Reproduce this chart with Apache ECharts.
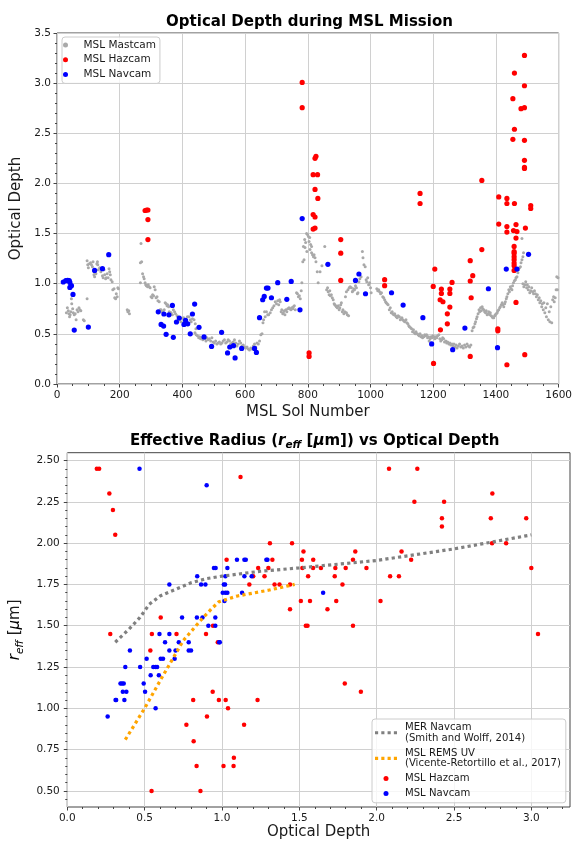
<!DOCTYPE html>
<html><head><meta charset="utf-8">
<script src="https://cdn.jsdelivr.net/npm/echarts@6/dist/echarts.min.js"></script>
<style>html,body{margin:0;padding:0;background:#fff}#c{width:575px;height:841px}</style>
</head><body><div id="c"></div><script>
// ---------- Top chart data: [sol, optical depth] ----------
const mastcam = [
[30,0.71],[33,0.76],[36,0.73],[38,0.70],[40,0.67],[42,0.69],[44,0.72],[46,0.85],[47,0.80],[50,0.75],[52,0.71],[55,0.69],[58,0.70],[61,0.64],[64,0.74],[67,0.72],[70,0.76],[73,0.74],[76,0.73],[84,0.64],[87,0.63],[96,0.85],
[96,1.23],[98,1.19],[100,1.16],[103,1.20],[107,1.21],[110,1.19],[113,1.17],[115,1.22],[117,1.13],[118,1.09],[120,1.07],[121,1.11],[124,1.10],[127,1.20],[129,1.22],[130,1.19],[132,1.14],[136,1.16],[140,1.12],[145,1.08],[147,1.06],[150,1.14],[152,1.09],[155,1.05],[157,1.06],[160,1.10],[163,1.06],[166,1.15],[168,1.12],[170,1.09],[172,1.04],[176,1.02],[178,0.94],[182,0.95],[184,0.86],[187,0.85],[189,0.90],[192,0.87],[194,0.96],[196,0.95],
[224,0.74],[226,0.72],[229,0.73],[231,0.70],
[266,1.21],[266,1.01],[268,1.40],[270,1.22],[273,1.10],[276,1.07],[278,1.05],[281,1.01],[283,0.99],[285,0.98],[289,0.97],[291,0.99],[294,0.97],[297,0.96],[300,0.87],[303,0.86],[305,0.89],[308,0.88],[310,0.97],[313,0.94],[316,0.86],[319,0.87],[322,0.83],[326,0.82],[329,0.74],[332,0.74],[335,0.72],[338,0.72],[342,0.74],[345,0.81],[348,0.80],[351,0.78],[353,0.79],[356,0.77],[358,0.72],[361,0.71],[364,0.71],[368,0.69],[371,0.74],[375,0.72],[378,0.70],[383,0.68],[387,0.66],[390,0.64],[395,0.62],[400,0.655],[404,0.66],[408,0.64],[411,0.62],[416,0.67],[421,0.67],[425,0.64],[428,0.62],[432,0.65],[437,0.64],[441,0.60],[443,0.55],
[440,0.51],[444,0.49],[448,0.48],[452,0.46],[455,0.47],[458,0.45],[462,0.46],[465,0.44],[468,0.47],[472,0.45],[475,0.43],[478,0.46],[482,0.44],[486,0.45],[490,0.43],[494,0.46],[498,0.42],[502,0.41],[506,0.43],[510,0.40],[514,0.41],[518,0.42],[522,0.40],[526,0.41],[530,0.43],[534,0.44],[538,0.41],[542,0.42],[546,0.44],[550,0.43],[554,0.40],[558,0.41],[562,0.42],[566,0.44],[570,0.41],[574,0.38],[578,0.40],[582,0.43],[586,0.41],[590,0.38],[594,0.39],[598,0.37],[602,0.36],[606,0.37],[610,0.35],[614,0.34],[618,0.36],[622,0.35],[626,0.38],[630,0.40],[634,0.37],[638,0.41],[642,0.40],[646,0.43],
[650,0.49],[654,0.50],[657,0.61],[659,0.64],[662,0.72],[664,0.67],[668,0.72],[672,0.69],[675,0.69],[680,0.71],[684,0.74],[688,0.76],[692,0.78],[696,0.82],[700,0.80],[704,0.83],[707,0.79],[710,0.84],[712,0.82],[715,0.72],[717,0.74],[720,0.70],[722,0.71],[725,0.73],[727,0.69],[730,0.74],[733,0.72],[736,0.75],[740,0.76],[743,0.75],[746,0.74],[749,0.76],[752,0.75],[754,0.77],[757,0.78],[760,0.74],[764,0.91],[767,0.90],[770,0.87],[773,0.88],[776,0.85],[779,0.93],[781,1.01],
[784,1.22],[786,1.37],[788,1.24],[790,1.44],[791,1.36],[793,1.41],[796,1.50],[797,1.32],[799,1.49],[802,1.47],[804,1.42],[806,1.46],[807,1.34],[809,1.39],[812,1.37],[812,1.31],[815,1.29],[818,1.27],[820,1.29],[823,1.26],[826,1.22],[830,1.12],[833,1.01],[839,1.12],[845,1.18],[854,1.37],[860,0.94],[863,0.96],[865,0.92],[868,0.89],[870,0.93],[872,0.88],[875,0.89],[878,0.86],[881,0.84],[884,0.80],[886,0.79],[889,0.78],[891,0.77],[894,0.76],[897,0.78],[900,0.74],[902,0.76],[905,0.79],[907,0.81],[910,0.72],[912,0.74],[915,0.70],[918,0.72],[920,0.87],[923,0.71],[923,0.92],[926,0.69],[928,0.94],[930,0.68],[932,0.96],[935,0.97],[939,0.96],[942,0.92],[944,0.93],[947,0.95],[949,0.94],[952,0.98],[955,0.96],[958,0.90],[960,0.91],[963,1.02],[966,1.05],[970,1.07],[974,1.32],[976,1.26],[979,1.19],[983,1.17],[986,1.04],[988,1.02],[991,1.06],[994,0.99],[997,1.01],[1000,0.96],[1002,0.91],
[1020,0.95],[1023,0.93],[1026,0.94],[1029,0.92],[1032,0.90],[1035,0.91],[1039,0.87],[1042,0.86],[1045,0.84],[1048,0.82],[1050,0.81],[1053,0.80],[1056,0.79],[1060,0.74],[1063,0.76],[1066,0.71],[1069,0.72],[1071,0.70],[1074,0.69],[1077,0.70],[1080,0.68],[1082,0.67],[1085,0.66],[1088,0.68],[1092,0.67],[1095,0.64],[1098,0.65],[1100,0.66],[1103,0.64],[1106,0.63],[1109,0.62],[1113,0.64],[1116,0.61],[1119,0.60],[1122,0.58],[1124,0.57],[1128,0.56],[1131,0.55],[1134,0.52],[1137,0.54],[1140,0.51],[1143,0.50],[1145,0.52],[1149,0.50],[1152,0.49],[1155,0.48],[1158,0.50],[1161,0.47],[1164,0.48],[1166,0.46],[1170,0.47],[1173,0.49],[1176,0.48],[1179,0.49],[1182,0.46],[1185,0.47],[1187,0.43],[1190,0.45],[1193,0.47],[1196,0.46],[1199,0.48],[1202,0.47],[1205,0.45],[1208,0.47],[1211,0.46],[1214,0.48],[1218,0.49],[1221,0.45],[1224,0.43],[1227,0.44],[1230,0.46],[1233,0.45],[1236,0.42],[1240,0.43],[1243,0.41],[1246,0.42],[1250,0.40],[1253,0.41],[1256,0.39],[1260,0.40],[1263,0.38],[1266,0.40],[1270,0.37],[1273,0.39],[1276,0.36],[1280,0.38],[1284,0.40],[1288,0.37],[1292,0.38],[1296,0.36],[1300,0.39],[1304,0.37],[1308,0.40],[1312,0.38],[1316,0.37],[1320,0.39],
[1324,0.53],[1327,0.56],[1330,0.57],[1333,0.60],[1335,0.62],[1338,0.65],[1340,0.67],[1343,0.70],[1346,0.74],[1348,0.72],[1351,0.76],[1353,0.73],[1356,0.77],[1358,0.75],[1361,0.74],[1364,0.72],[1367,0.71],[1369,0.73],[1372,0.69],[1375,0.70],[1377,0.72],[1380,0.69],[1382,0.71],[1385,0.68],[1388,0.67],[1390,0.66],[1393,0.66],[1396,0.68],[1398,0.69],[1401,0.70],[1404,0.71],[1406,0.73],[1409,0.74],[1412,0.76],[1414,0.77],[1417,0.79],[1420,0.81],[1422,0.79],[1425,0.77],[1428,0.80],[1430,0.82],[1433,0.85],[1435,0.87],[1438,0.90],[1441,0.94],[1443,0.92],[1446,0.97],[1448,0.95],[1451,0.94],[1453,0.98],[1456,1.01],[1459,1.03],[1462,1.04],[1464,1.06],[1467,1.07],[1470,1.11],[1472,1.14],[1475,1.16],[1478,1.17],[1480,1.21],[1483,1.24],[1486,1.27],[1488,1.31],[1483,1.45],
[1486,1.00],[1489,0.97],[1492,0.99],[1495,1.02],[1498,0.96],[1500,0.99],[1503,0.94],[1505,0.97],[1508,0.91],[1511,0.93],[1514,0.96],[1517,0.92],[1520,0.90],[1523,0.93],[1526,0.90],[1529,0.87],[1532,0.89],[1535,0.84],[1538,0.86],[1540,0.81],[1543,0.83],[1546,0.77],[1548,0.80],[1551,0.74],[1553,0.81],[1556,0.71],[1559,0.76],[1561,0.67],[1564,0.80],[1567,0.64],[1570,0.72],[1572,0.62],[1575,0.77],[1578,0.61],[1581,0.84],[1584,0.87],[1586,0.82],[1589,0.86],[1592,0.94],[1594,1.07],[1596,0.94],[1598,1.06]
];
const hazcamSol = [
[281,1.73],[286,1.735],[290,1.735],[290,1.64],[290,1.44],
[782,3.007],[782,2.755],[804,0.31],[804,0.275],
[817,1.69],[823,1.665],[817,1.545],[823,1.555],[817,2.087],[831,2.087],[823,1.94],[832,1.85],[826,2.27],[823,2.25],
[905,1.44],[905,1.305],[905,1.033],[1045,1.04],[1045,0.98],[1158,1.90],[1158,1.80],
[1200,0.973],[1201,0.205],[1205,1.146],[1222,0.84],[1223,0.54],[1226,0.947],[1226,0.903],[1231,0.82],
[1245,0.70],[1245,0.60],[1253,0.947],[1253,0.903],[1253,0.767],[1260,1.013],
[1318,1.23],[1318,1.027],[1318,0.275],[1321,0.86],[1326,1.08],[1355,1.34],[1355,2.03],
[1406,0.55],[1406,0.53],[1409,1.595],[1409,1.865],
[1435,1.85],[1435,1.80],[1435,1.57],[1435,1.515],[1435,0.192],
[1454,2.845],[1454,2.44],[1459,3.10],[1459,2.54],[1459,1.80],
[1456,1.53],[1464,1.59],[1467,1.52],[1464,1.455],
[1458,1.372],[1458,1.32],[1458,1.305],[1458,1.27],[1458,1.24],[1458,1.206],[1458,1.18],[1458,1.133],[1464,0.813],
[1480,2.745],[1491,2.755],[1491,3.276],[1491,2.974],[1491,2.43],[1491,2.23],[1491,2.16],[1491,2.15],
[1494,1.555],[1492,0.292],[1511,1.78],[1511,1.75]
];
const navcamSol = [
[20,1.017],[28,1.03],[34,1.033],[39,1.03],[41,1.013],[41,0.963],[46,0.98],[51,0.893],[55,0.538],[100,0.568],[120,1.133],[145,1.15],[165,1.29],
[323,0.72],[332,0.594],[340,0.578],[341,0.698],[348,0.495],[357,0.69],[368,0.784],[371,0.465],[381,0.618],[390,0.658],[405,0.594],[410,0.634],[417,0.60],[425,0.50],[432,0.698],[439,0.797],[453,0.565],[469,0.469],[493,0.375],[525,0.515],[544,0.31],[551,0.369],[563,0.382],[568,0.26],[589,0.355],[630,0.355],[636,0.315],[646,0.661],[656,0.84],[661,0.873],[668,0.957],[673,0.957],[684,0.86],[704,1.01],[733,0.844],[747,1.023],[775,0.74],[782,1.65],
[864,1.193],[952,1.033],[963,1.097],[984,0.90],[1067,0.91],[1104,0.787],[1167,0.661],[1195,0.40],[1262,0.342],[1301,0.558],[1376,0.95],[1405,0.362],[1433,1.146],[1467,1.146],[1504,1.293]
];
// ---------- Bottom chart data: [optical depth, r_eff] ----------
const merNavcamFit = [[0.31,1.40],[0.40,1.48],[0.47,1.55],[0.53,1.63],[0.60,1.68],[0.70,1.72],[0.80,1.76],[0.90,1.785],[1.00,1.80],[1.25,1.83],[1.50,1.85],[2.00,1.895],[2.50,1.965],[3.00,2.05]];
const remsUvFit = [[0.375,0.81],[0.50,1.00],[0.62,1.20],[0.75,1.41],[0.86,1.53],[0.93,1.60],[0.98,1.645],[1.10,1.68],[1.30,1.715],[1.47,1.75]];
const hazcamReff = [
[0.191,2.45],[0.206,2.45],[0.272,2.30],[0.295,2.20],[0.31,2.05],[0.278,1.45],[1.12,2.40],[0.604,1.55],[0.547,1.45],[0.537,1.35],[0.706,1.45],[0.897,1.45],[0.942,1.50],[0.973,1.40],[0.94,1.10],[0.814,1.05],[0.98,1.05],[1.024,1.05],[1.23,1.05],[1.039,1.00],[0.903,0.95],[0.77,0.90],[1.143,0.90],[0.817,0.80],[1.077,0.70],[0.836,0.65],[1.01,0.65],[1.075,0.65],[0.545,0.50],[0.861,0.50],
[1.03,1.90],[1.177,1.75],[1.202,1.80],[1.234,1.85],[1.275,1.80],[1.30,1.85],[1.31,2.00],[1.326,1.90],[1.34,1.75],[1.372,1.75],[1.44,1.75],[1.44,1.60],[1.453,2.00],[1.51,1.65],[1.517,1.90],[1.52,1.85],[1.527,1.95],[1.59,1.90],[1.589,1.85],[1.64,1.85],[1.557,1.80],[1.569,1.65],[1.542,1.50],[1.553,1.50],[1.682,1.60],[1.733,1.85],[1.729,1.80],[1.739,1.65],[1.779,1.75],[1.80,1.85],[1.847,1.90],[1.862,1.95],[1.847,1.50],[1.934,1.85],[2.025,1.65],[1.794,1.15],[1.898,1.10],
[2.08,2.45],[2.263,2.45],[2.244,2.25],[2.436,2.25],[2.748,2.30],[2.422,2.15],[2.738,2.15],[2.967,2.15],[2.422,2.10],[2.746,2.00],[2.837,2.00],[2.161,1.95],[2.223,1.90],[2.087,1.80],[2.144,1.80],[3.0,1.85],[3.043,1.45]
];
const navcamReff = [
[0.467,2.45],[0.901,2.35],[0.66,1.75],[0.742,1.55],[0.84,1.80],[0.838,1.55],[0.865,1.75],[0.893,1.75],[0.874,1.55],[0.948,1.85],[0.959,1.85],[0.957,1.55],[0.912,1.50],[0.957,1.50],[1.005,1.70],[1.022,1.70],[1.012,1.75],[1.02,1.75],[1.016,1.65],[1.022,1.80],[1.035,1.85],[1.035,1.70],[1.097,1.90],[1.13,1.70],[1.145,1.90],[1.154,1.90],[1.145,1.80],[1.192,1.80],[1.287,1.90],[1.294,1.90],[1.654,1.70],
[0.261,0.95],[0.312,1.05],[0.316,1.05],[0.344,1.15],[0.354,1.15],[0.365,1.15],[0.359,1.10],[0.382,1.10],[0.369,1.05],[0.375,1.25],[0.405,1.35],[0.471,1.25],[0.494,1.15],[0.503,1.10],[0.513,1.30],[0.539,1.20],[0.556,1.25],[0.571,1.25],[0.581,1.25],[0.571,1.00],[0.596,1.45],[0.592,1.20],[0.604,1.30],[0.619,1.30],[0.632,1.40],[0.66,1.45],[0.66,1.35],[0.694,1.30],[0.70,1.35],[0.721,1.40],[0.785,1.40],[0.785,1.35],[0.80,1.35],[0.982,1.40],[0.986,1.40]
];
// ---------- Tick values ----------
const odTicksBottom = [0.0,0.5,1.0,1.5,2.0,2.5,3.0];
const reffTicks = [0.50,0.75,1.00,1.25,1.50,1.75,2.00,2.25,2.50];
function steps(lo, hi, step){const o=[];for(let k=0;;k++){const v=+(lo+k*step).toFixed(6);if(v>hi+1e-9)break;o.push(v);}return o;}
const odMinorBottom = steps(0.1, 3.2, 0.1);
const reffMinor = steps(0.45, 2.5, 0.05);

const FONT = 'DejaVu Sans', TXT = '#1a1a1a', SPINE = '#444', GRIDC = '#d0d0d0';
const lbl = (extra) => Object.assign({fontSize:10.5, color:TXT, fontFamily:FONT}, extra);
const tick = (len, extra) => Object.assign({show:true, length:len, lineStyle:{color:SPINE, width:1}}, extra||{});
const split = {show:true, lineStyle:{color:GRIDC, width:1}};
const subRich = {
  b:{fontSize:15, fontWeight:'bold', fontFamily:FONT, color:'#000', lineHeight:20},
  n:{fontSize:15, fontFamily:FONT, color:TXT, lineHeight:20},
  i:{fontSize:15, fontStyle:'italic', fontFamily:FONT, color:'#000', lineHeight:20},
  s:{fontSize:10.5, fontStyle:'italic', fontFamily:FONT, color:'#000', lineHeight:10, verticalAlign:'bottom'}
};
const dotIcon = 'path://M0,0h3.2v3.2h-3.2z M6.4,0h3.2v3.2h-3.2z M12.8,0h3.2v3.2h-3.2z M19.2,0h3.2v3.2h-3.2z';

const chart = echarts.init(document.getElementById('c'));
chart.setOption({
  animation:false,
  backgroundColor:'#fff',
  title:[
    {text:'Optical Depth during MSL Mission', left:309.5, top:15, textAlign:'center', padding:0,
     textStyle:{fontSize:15, fontWeight:'bold', color:'#000', fontFamily:FONT}},
    {text:'{b|Effective Radius (}{i|r}{s|eff}{b| [}{i|μ}{b|m]) vs Optical Depth}', left:314.6, top:431, textAlign:'center', padding:0,
     textStyle:{rich:subRich}}
  ],
  legend:[
    {data:['MSL Mastcam','MSL Hazcam','MSL Navcam'], orient:'vertical', left:62, top:37, padding:[2,4,3,1],
     itemWidth:26, itemHeight:5, itemGap:2.7, icon:'circle', selectedMode:false,
     textStyle:{fontSize:10.5, color:TXT, fontFamily:FONT, lineHeight:12},
     borderColor:'#cccccc', borderWidth:1, borderRadius:3, backgroundColor:'rgba(255,255,255,0.8)'},
    {data:[{name:'MER Navcam', icon:dotIcon},{name:'MSL REMS UV', icon:dotIcon},{name:'MSL Hazcam',icon:'circle'},{name:'MSL Navcam',icon:'circle'}],
     orient:'vertical', left:372, top:719, padding:[3,5,4,3], itemWidth:22, itemHeight:5, itemGap:4, selectedMode:false,
     formatter:(n)=>({'MER Navcam':'MER Navcam\n(Smith and Wolff, 2014)','MSL REMS UV':'MSL REMS UV\n(Vicente-Retortillo et al., 2017)'}[n]||n),
     textStyle:{fontSize:10.1, color:TXT, fontFamily:FONT, lineHeight:10.8, padding:[0,0,0,3]},
     borderColor:'#cccccc', borderWidth:1, borderRadius:3, backgroundColor:'rgba(255,255,255,0.8)'}
  ],
  grid:[
    {left:57, top:33, width:505, height:351, show:true, borderColor:SPINE, borderWidth:1, backgroundColor:'transparent'},
    {left:59.3, top:452.7, width:510.7, height:355.6, show:true, borderColor:SPINE, borderWidth:1, backgroundColor:'transparent'}
  ],
  xAxis:[
    {gridIndex:0, type:'value', min:0, max:1600, interval:200, axisLine:{show:false},
     axisTick:tick(3.5), minorTick:{show:true, splitNumber:4, length:2, lineStyle:{color:SPINE}},
     axisLabel:lbl({margin:6, formatter:(v)=>String(v)}), splitLine:split,
     name:'MSL Sol Number', nameLocation:'middle', nameGap:21, nameTextStyle:{fontSize:15, color:TXT, fontFamily:FONT}},
    {gridIndex:1, type:'value', min:0, max:3.25, axisLine:{show:false},
     axisTick:tick(3.5,{customValues:odTicksBottom}),
     axisLabel:lbl({margin:6, customValues:odTicksBottom, formatter:(v)=>v.toFixed(1)}), splitLine:split,
     name:'Optical Depth', nameLocation:'middle', nameGap:18, nameTextStyle:{fontSize:15, color:TXT, fontFamily:FONT}},
    {gridIndex:1, type:'value', min:0, max:3.25, position:'bottom', axisLine:{show:false},
     axisTick:tick(2,{customValues:odMinorBottom}), axisLabel:{show:false}, splitLine:{show:false}}
  ],
  yAxis:[
    {gridIndex:0, type:'value', min:0, max:3.5, interval:0.5, axisLine:{show:false},
     axisTick:tick(3.5), minorTick:{show:true, splitNumber:5, length:2, lineStyle:{color:SPINE}},
     axisLabel:lbl({margin:6, formatter:(v)=>v.toFixed(1)}), splitLine:split,
     name:'Optical Depth', nameLocation:'middle', nameGap:23, nameTextStyle:{fontSize:15, color:TXT, fontFamily:FONT}},
    {gridIndex:1, type:'value', min:0.4025, max:2.5475, axisLine:{show:false},
     axisTick:tick(3.5,{customValues:reffTicks}),
     axisLabel:lbl({margin:7.5, customValues:reffTicks, formatter:(v)=>v.toFixed(2)}), splitLine:split,
     name:'{i|r}{s|eff}{n| [}{i|μ}{n|m]}', nameLocation:'middle', nameGap:29,
     nameTextStyle:{fontSize:15, color:TXT, fontFamily:FONT, rich:subRich}},
    {gridIndex:1, type:'value', min:0.4025, max:2.5475, position:'left', axisLine:{show:false},
     axisTick:tick(2,{customValues:reffMinor}), axisLabel:{show:false}, splitLine:{show:false}}
  ],
  series:[
    {name:'MSL Mastcam', type:'scatter', xAxisIndex:0, yAxisIndex:0, data:mastcam, symbolSize:3, itemStyle:{color:'#a9a9a9', opacity:1}},
    {name:'MSL Hazcam', type:'scatter', xAxisIndex:0, yAxisIndex:0, data:hazcamSol, symbolSize:5.2, itemStyle:{color:'#ff0000', opacity:1}},
    {name:'MSL Navcam', type:'scatter', xAxisIndex:0, yAxisIndex:0, data:navcamSol, symbolSize:5.2, itemStyle:{color:'#0000ff', opacity:1}},
    {name:'MER Navcam', type:'line', xAxisIndex:1, yAxisIndex:1, data:merNavcamFit, symbol:'none', lineStyle:{color:'#808080', width:3.2, type:'dotted'}, itemStyle:{color:'#808080'}},
    {name:'MSL REMS UV', type:'line', xAxisIndex:1, yAxisIndex:1, data:remsUvFit, symbol:'none', lineStyle:{color:'#ffa500', width:3.2, type:'dotted'}, itemStyle:{color:'#ffa500'}},
    {name:'MSL Hazcam', type:'scatter', xAxisIndex:1, yAxisIndex:1, data:hazcamReff, symbolSize:4.5, itemStyle:{color:'#ff0000', opacity:1}},
    {name:'MSL Navcam', type:'scatter', xAxisIndex:1, yAxisIndex:1, data:navcamReff, symbolSize:4.5, itemStyle:{color:'#0000ff', opacity:1}}
  ]
});
</script></body></html>
